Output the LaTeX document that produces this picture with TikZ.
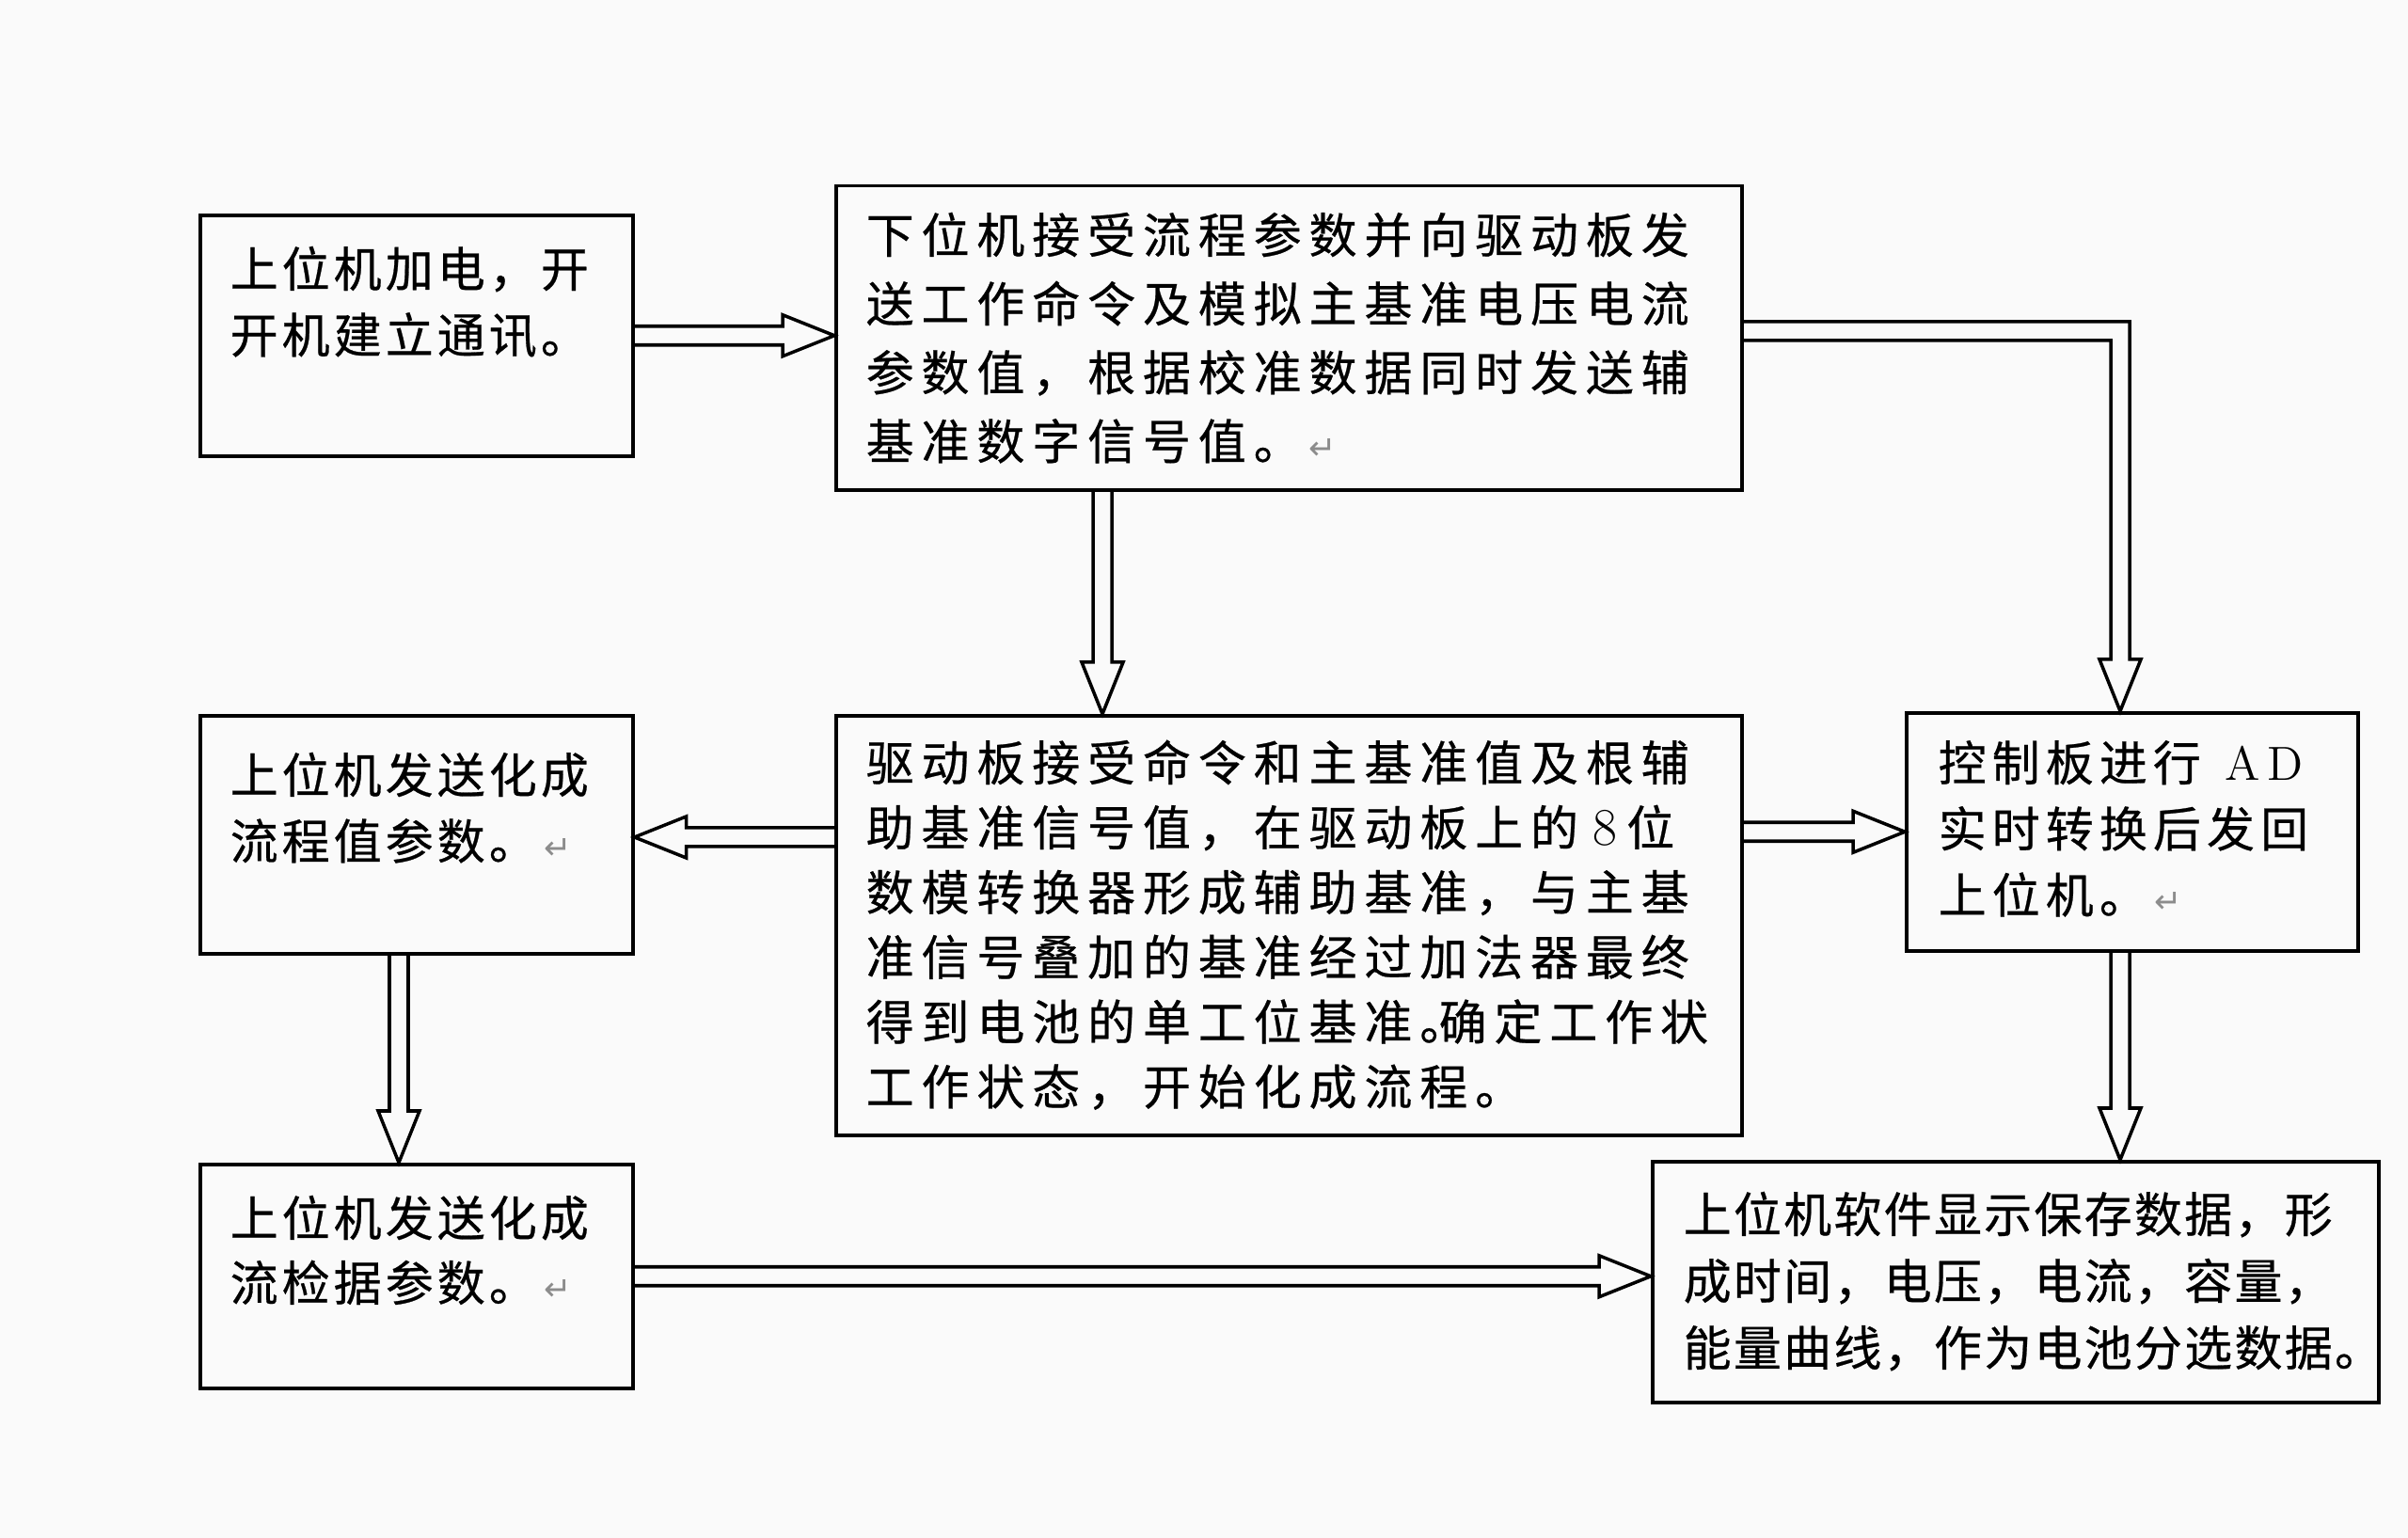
\documentclass[tikz,border=0pt]{standalone}
\usepackage{fontspec}
\usetikzlibrary{calc}

\newfontfamily\cjkA[LetterSpace=8,FakeBold=0.5]{Noto Sans CJK SC}
\newfontfamily\cjkB[LetterSpace=15.5,FakeBold=0.5]{Noto Sans CJK SC}
\newfontfamily\cjkD[LetterSpace=12,FakeBold=0.5]{Noto Sans CJK SC}
\newfontfamily\cjkG[LetterSpace=4.5,FakeBold=0.5]{Noto Sans CJK SC}
\newfontfamily\retfont{DejaVu Sans}

\definecolor{bg}{RGB}{250,250,250}
\definecolor{retgray}{RGB}{140,140,140}

% Word paragraph mark
\newcommand{\retmark}{\hspace{0.15em}{\retfont\fontsize{10pt}{10pt}\selectfont\color{retgray}↵}}

% hollow double-line arrow
\newcommand{\shaftw}{0.10cm}
\newcommand{\headw}{0.22cm}
\newcommand{\headl}{0.55cm}
\newcommand{\hollowarrow}[2]{%
  \path ($(#2)!\headl!(#1)$) coordinate (hb);
  \draw[arr] ($(#1)!\shaftw!90:(#2)$) -- ($(hb)!\shaftw!90:(#2)$) -- ($(hb)!\headw!90:(#2)$) -- (#2)
    -- ($(hb)!\headw!-90:(#2)$) -- ($(hb)!\shaftw!-90:(#2)$) -- ($(#1)!\shaftw!-90:(#2)$);
}

\begin{document}
\begin{tikzpicture}[
    box/.style={draw, line width=1pt, anchor=north west, inner sep=0pt},
    txt/.style={anchor=base west, inner sep=0pt},
    arr/.style={line width=1pt, line join=miter}
  ]
  % Page
  \fill[bg] (0,0) rectangle (25.6,-16.35);
  \useasboundingbox (0,0) rectangle (25.6,-16.35);

  % Boxes
  \node[box, minimum width=4.60cm, minimum height=2.56cm] (A) at (2.11,-2.27) {};
  \node[box, minimum width=9.63cm, minimum height=3.23cm] (B) at (8.87,-1.96) {};
  \node[box, minimum width=9.63cm, minimum height=4.46cm] (C) at (8.87,-7.59) {};
  \node[box, minimum width=4.80cm, minimum height=2.53cm] (D) at (20.25,-7.56) {};
  \node[box, minimum width=4.60cm, minimum height=2.53cm] (E) at (2.11,-7.59) {};
  \node[box, minimum width=4.60cm, minimum height=2.38cm] (F) at (2.11,-12.36) {};
  \node[box, minimum width=7.72cm, minimum height=2.56cm] (G) at (17.55,-12.33) {};

  % Texts
  \node[txt, font=\cjkA\fontsize{14.5pt}{20pt}\selectfont] (tA) at ($(A.north west)+(0.33,-0.78)$)
    {\parbox[t]{4.5cm}{上位机加电，开\\开机建立通讯。}};
  \node[txt, font=\cjkB\fontsize{14.5pt}{20.8pt}\selectfont] (tB) at ($(B.north west)+(0.33,-0.73)$)
    {\parbox[t]{9.5cm}{下位机接受流程参数并向驱动板发\\送工作命令及模拟主基准电压电流\\参数值，根据校准数据同时发送辅\\基准数字信号值。\retmark}};
  \node[txt, font=\cjkB\fontsize{14.5pt}{19.6pt}\selectfont] (tC) at ($(C.north west)+(0.33,-0.71)$)
    {\parbox[t]{9.5cm}{驱动板接受命令和主基准值及根辅\\助基准信号值，在驱动板上的\hspace{0.3em}{\rmfamily\fontsize{16pt}{16pt}\selectfont 8}\hspace{0.2em}位\\数模转换器形成辅助基准，与主基\\准信号叠加的基准经过加法器最终\\得到电池的单工位基准。\hspace{-0.6em}确定工作状\\工作状态，开始化成流程。}};
  \node[txt, font=\cjkD\fontsize{14.5pt}{20pt}\selectfont] (tD) at ($(D.north west)+(0.35,-0.74)$)
    {\parbox[t]{4.7cm}{控制板进行\hspace{0.5em}{\rmfamily A\hspace{0.15em}D}\\实时转换后发回\\上位机。\retmark}};
  \node[txt, font=\cjkA\fontsize{14.5pt}{20pt}\selectfont] (tE) at ($(E.north west)+(0.33,-0.84)$)
    {\parbox[t]{4.5cm}{上位机发送化成\\流程值参数。\retmark}};
  \node[txt, font=\cjkA\fontsize{14.5pt}{19.6pt}\selectfont] (tF) at ($(F.north west)+(0.33,-0.78)$)
    {\parbox[t]{4.5cm}{上位机发送化成\\流检据参数。\retmark}};
  \node[txt, font=\cjkG\fontsize{14.5pt}{20.2pt}\selectfont] (tG) at ($(G.north west)+(0.34,-0.77)$)
    {\parbox[t]{7.6cm}{上位机软件显示保存数据，形\\成时间，电压，电流，容量，\\能量曲线，作为电池分选数据。}};

  % Arrows
  \coordinate (bc) at (11.72,0);
  \coordinate (ce) at (0,-8.90);
  \coordinate (ef) at (4.24,0);
  \coordinate (dg) at (22.54,0);
  \coordinate (bd) at (22.54,-3.52);

  \hollowarrow{A.east}{A.east -| B.west}
  \hollowarrow{bc |- B.south}{bc |- C.north}
  \hollowarrow{ce -| C.west}{ce -| E.east}
  \hollowarrow{D.west -| C.east}{D.west}
  \hollowarrow{ef |- E.south}{ef |- F.north}
  \hollowarrow{dg |- D.south}{dg |- G.north}
  \hollowarrow{F.east}{F.east -| G.west}

  % B -> D, bent
  \draw[arr] ($(B.east |- bd)+(0,\shaftw)$) -- ($(bd)+(\shaftw,\shaftw)$)
    -- ($(bd |- D.north)+(\shaftw,\headl)$) -- ($(bd |- D.north)+(\headw,\headl)$) -- (bd |- D.north)
    -- ($(bd |- D.north)+(-\headw,\headl)$) -- ($(bd |- D.north)+(-\shaftw,\headl)$)
    -- ($(bd)+(-\shaftw,-\shaftw)$) -- ($(B.east |- bd)+(0,-\shaftw)$);
\end{tikzpicture}
\end{document}
